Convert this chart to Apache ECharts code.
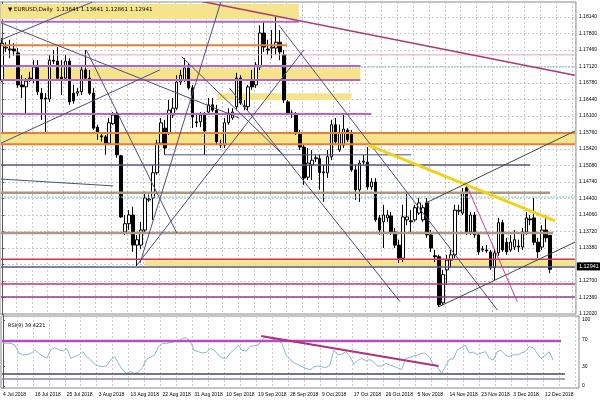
<!DOCTYPE html>
<html><head><meta charset="utf-8">
<script src="https://cdn.jsdelivr.net/npm/echarts/dist/echarts.min.js"></script>
<style>html,body{margin:0;padding:0;background:#fff}#c{width:600px;height:400px}</style>
</head><body><div id="c"></div>
<script>
// ---------------- DATA ----------------
const dateLabels = ['4 Jul 2018','16 Jul 2018','25 Jul 2018','3 Aug 2018','13 Aug 2018','22 Aug 2018','31 Aug 2018','10 Sep 2018','19 Sep 2018','28 Sep 2018','9 Oct 2018','17 Oct 2018','26 Oct 2018','5 Nov 2018','14 Nov 2018','23 Nov 2018','3 Dec 2018','12 Dec 2018'];
const priceTicks = { min: 1.12020, step: 0.0034, max: 1.18449 };

const opens = [1.1684,1.1750,1.1746,1.1748,1.1740,1.1674,1.1670,1.1686,1.1684,1.1711,1.1657,1.1647,1.1645,1.1725,1.1723,1.1690,1.1688,1.1723,1.1657,1.1657,
1.1660,1.1705,1.1688,1.1657,1.1587,1.1569,1.1567,1.1554,1.1594,1.1612,1.1528,1.1371,1.1388,1.1406,1.1344,1.1344,1.1375,1.1437,1.1441,1.1493,
1.1554,1.1585,1.1575,1.1612,1.1626,1.1680,1.1684,1.1709,1.1668,1.1598,1.1598,1.1612,1.1618,1.1633,1.1622,1.1550,1.1550,1.1596,1.1606,1.1629,
1.1688,1.1629,1.1629,1.1684,1.1674,1.1711,1.1781,1.1748,1.1750,1.1750,1.1762,1.1736,1.1639,1.1614,1.1612,1.1575,1.1546,1.1484,1.1509,1.1522,
1.1522,1.1493,1.1493,1.1526,1.1592,1.1540,1.1550,1.1581,1.1575,1.1499,1.1458,1.1515,1.1515,1.1464,1.1474,1.1400,1.1392,1.1400,1.1404,1.1371,
1.1344,1.1317,1.1396,1.1394,1.1396,1.1410,1.1396,1.1431,1.1365,1.1322,1.1320,1.1225,1.1293,1.1313,1.1324,1.1414,1.1410,1.1462,1.1371,1.1406,
1.1365,1.1334,1.1334,1.1330,1.1297,1.1328,1.1390,1.1350,1.1334,1.1340,1.1342,1.1340,1.1371,1.1398,1.1400,1.1350,1.1340,1.1375,1.13641];
const closes = [1.1760,1.1752,1.1748,1.1744,1.1674,1.1670,1.1682,1.1688,1.1711,1.1660,1.1645,1.1645,1.1725,1.1723,1.1688,1.1684,1.1723,1.1639,1.1641,1.1660,
1.1705,1.1688,1.1657,1.1585,1.1577,1.1567,1.1554,1.1596,1.1612,1.1530,1.1402,1.1388,1.1406,1.1344,1.1355,1.1375,1.1441,1.1439,1.1493,1.1554,
1.1596,1.1544,1.1622,1.1626,1.1680,1.1694,1.1709,1.1668,1.1608,1.1596,1.1612,1.1579,1.1633,1.1622,1.1557,1.1552,1.1596,1.1616,1.1618,1.1688,
1.1637,1.1631,1.1670,1.1670,1.1715,1.1781,1.1752,1.1746,1.1752,1.1762,1.1742,1.1643,1.1616,1.1616,1.1575,1.1546,1.1482,1.1513,1.1519,1.1524,
1.1493,1.1495,1.1526,1.1592,1.1557,1.1575,1.1583,1.1561,1.1499,1.1458,1.1513,1.1517,1.1464,1.1474,1.1396,1.1375,1.1406,1.1406,1.1371,1.1344,
1.1317,1.1402,1.1402,1.1392,1.1421,1.1431,1.1421,1.1365,1.1338,1.1320,1.1221,1.1283,1.1313,1.1324,1.1416,1.1416,1.1452,1.1369,1.1406,1.1365,
1.1330,1.1336,1.1332,1.1297,1.1328,1.1390,1.1334,1.1330,1.1350,1.1355,1.1340,1.1371,1.1400,1.1396,1.1350,1.1330,1.1375,1.1359,1.12941];
const lows = [1.1680,1.1742,1.1729,1.1734,1.1668,1.1647,1.1616,1.1680,1.1678,1.1653,1.1602,1.1575,1.1639,1.1717,1.1684,1.1653,1.1684,1.1633,1.1635,1.1651,
1.1653,1.1684,1.1653,1.1581,1.1561,1.1557,1.1530,1.1550,1.1592,1.1524,1.1400,1.1365,1.1375,1.1330,1.1301,1.1336,1.1371,1.1433,1.1396,1.1489,
1.1550,1.1530,1.1571,1.1606,1.1622,1.1674,1.1680,1.1664,1.1585,1.1587,1.1587,1.1530,1.1612,1.1618,1.1550,1.1544,1.1544,1.1592,1.1602,1.1622,
1.1633,1.1622,1.1622,1.1664,1.1668,1.1705,1.1742,1.1736,1.1729,1.1736,1.1725,1.1637,1.1612,1.1606,1.1571,1.1540,1.1468,1.1478,1.1478,1.1515,
1.1458,1.1433,1.1482,1.1519,1.1550,1.1536,1.1544,1.1557,1.1495,1.1437,1.1433,1.1509,1.1458,1.1458,1.1392,1.1365,1.1338,1.1392,1.1365,1.1338,
1.1307,1.1309,1.1385,1.1371,1.1392,1.1406,1.1392,1.1359,1.1330,1.1309,1.1217,1.1221,1.1262,1.1297,1.1317,1.1406,1.1406,1.1365,1.1365,1.1359,
1.1324,1.1330,1.1328,1.1293,1.1272,1.1322,1.1330,1.1324,1.1330,1.1334,1.1330,1.1334,1.1365,1.1385,1.1344,1.1317,1.1334,1.1350,1.12861];
const highs = [1.1771,1.1762,1.1767,1.1760,1.1750,1.1694,1.1688,1.1701,1.1725,1.1725,1.1668,1.1657,1.1736,1.1746,1.1752,1.1725,1.1736,1.1729,1.1674,1.1668,
1.1715,1.1746,1.1705,1.1668,1.1592,1.1577,1.1571,1.1606,1.1618,1.1618,1.1530,1.1406,1.1416,1.1423,1.1365,1.1392,1.1454,1.1448,1.1509,1.1561,
1.1606,1.1602,1.1643,1.1647,1.1694,1.1705,1.1729,1.1719,1.1674,1.1612,1.1618,1.1618,1.1647,1.1647,1.1633,1.1561,1.1606,1.1626,1.1626,1.1699,
1.1694,1.1643,1.1674,1.1705,1.1721,1.1797,1.1804,1.1767,1.1787,1.1814,1.1787,1.1746,1.1643,1.1622,1.1618,1.1581,1.1550,1.1544,1.1540,1.1530,
1.1530,1.1509,1.1540,1.1602,1.1606,1.1592,1.1612,1.1585,1.1581,1.1509,1.1519,1.1530,1.1546,1.1482,1.1482,1.1406,1.1427,1.1416,1.1412,1.1379,
1.1355,1.1427,1.1452,1.1416,1.1427,1.1441,1.1427,1.1441,1.1375,1.1334,1.1324,1.1293,1.1324,1.1334,1.1427,1.1427,1.1462,1.1468,1.1412,1.1412,
1.1371,1.1342,1.1344,1.1334,1.1334,1.1400,1.1396,1.1359,1.1365,1.1375,1.1355,1.1379,1.1412,1.1406,1.1441,1.1359,1.1385,1.1406,1.13641];

const rsi = [64.6,65,64.6,62,50,47,47.5,49.5,54.5,49.5,45,42,55,58,55,53,57,42,44.4,47,
52,44.4,39.4,33,30.3,29.3,30.5,40,44.4,34.3,24,19.5,21.7,19.2,21,28,40,44,47,59.6,
64.6,64.6,66,67.2,68,72.2,73.2,67,54,52,50,51,57,54.5,47,42.5,41.9,50,55,62,
54,53,60,61,62,69.7,74.7,72,70.5,69.7,64,47,40,35.5,32.5,29.3,26.8,24.5,29,30.3,
29,27.8,31.8,54.5,47,48,52,45,33,38.5,41.9,38,40,36,30.5,30,34.3,31.8,30,27.5,
25,42,43,45.5,47,49.5,49.5,43,32,29.3,19.2,29.3,40.5,41,55,58,62,50,51.5,47.5,
50,52,42,39.4,52,54,47,44.4,47.5,47,50,52,59.6,58,49.5,42,46,52,39.4221];

// horizontal levels: [fromBar, toBar, price, kind]
const levels = [
 [-0.25, 74.75, 1.1847, 'purple'], [-0.25, 74.75, 1.1804, 'purple'],
 [-0.25, 71.75, 1.1756, 'orange'], [-0.25, 144.25, 1.1736, 'pinkThin'],
 [-0.25, 144.25, 1.1711, 'teal'], [-0.25, 90.25, 1.1713, 'purple'],
 [-0.25, 90.25, 1.1684, 'purple'], [-0.25, 93, 1.1614, 'purple'],
 [-0.25, 144.25, 1.1575, 'orange'], [-0.25, 144.25, 1.1552, 'orange'],
 [41, 103, 1.1530, 'navy'], [-0.25, 133, 1.1509, 'navy2'],
 [-0.25, 138, 1.1452, 'tan'], [-0.25, 144.25, 1.1443, 'teal'],
 [-0.25, 138.75, 1.1369, 'tan'], [-0.25, 144.25, 1.1315, 'red'],
 [-0.25, 144.25, 1.1299, 'navy2'], [-0.25, 144.25, 1.1264, 'magenta'],
 [-0.25, 144.25, 1.1237, 'plum']
];
// zones: [fromBar, toBar, lowPrice, highPrice]
const zones = [
 [-0.25, 74.75, 1.1810, 1.1841], [-0.25, 90.25, 1.1686, 1.1709],
 [54.25, 88, 1.1643, 1.1657], [-0.25, 144.25, 1.1552, 1.1575],
 [36, 144.25, 1.1301, 1.1313]
];
// trend lines: [bar1, price1, bar2, price2, kind]
const trends = [
 [-0.25, 1.1802, 59.75, 1.1606, 'navy'], [-0.25, 1.1554, 39.75, 1.1705, 'navy'],
 [-0.25, 1.1767, 24, 1.1849, 'navy'], [21.25, 1.1746, 44, 1.1369, 'navy'],
 [34.75, 1.1307, 55.25, 1.1849, 'navy'], [34, 1.1303, 76, 1.1746, 'navy'],
 [45.25, 1.1732, 71, 1.1528, 'navy'], [69.75, 1.1797, 124.75, 1.1210, 'navy'],
 [57.25, 1.1668, 100.25, 1.1227, 'navy'], [-0.25, 1.1480, 28, 1.1466, 'navy'],
 [48.5, 1.1849, 144.25, 1.1694, 'maroon'], [92.25, 1.1550, 139.25, 1.1394, 'yellow'],
 [106.75, 1.1431, 144.25, 1.1579, 'dark'], [110, 1.1217, 144.25, 1.1350, 'dark'],
 [117.25, 1.1462, 129.75, 1.1227, 'pink']
];
const rsiLevels = [[-0.25, 140, 68.2, 'rsiMag'], [-0.25, 141, 18.2, 'rsiDark'], [-0.25, 141, 10.6, 'rsiGrey']];
const rsiTrends = [[64.75, 75.8, 109.25, 30.3, 'rsiTrend']];
const notes = [
 [110, 1.1828, 'G', 'g'], [140.25, 1.1715, 'R', 'r'], [71.75, 1.1729, 'R', 'rs'],
 [100, 1.1274, 'R', 'ro'], [120.5, 1.1264, 'R', 'ro'], [124, 1.1264, '?', 'ro'],
 [142.75, 1.1742, '38.2', 'fp'], [142.75, 1.1716, '38.2', 'ft'], [142.75, 1.1449, '50.0', 'ft'],
 [143.5, 1.1240, '0', 'fp'], [142.5, 1.1208, '23.6', 'fp']
];
const lastClose = 1.12941;
const titleText = '\u25BC EURUSD,Daily  1.13641 1.13641 1.12861 1.12941';
const rsiTitle = 'RSI(9) 39.4221';

// ---------------- STYLES ----------------
const FONT = 'Liberation Sans, Arial, sans-serif';
const lineKinds = {
  purple: {stroke:'#b866c6', lineWidth:2},
  orange: {stroke:'#e2803a', lineWidth:2},
  pinkThin: {stroke:'#e6a6c6', lineWidth:1},
  teal: {stroke:'#86c4c4', lineWidth:1, lineDash:[2,1]},
  navy: {stroke:'#4e4e7c', lineWidth:1},
  navy2: {stroke:'#58587e', lineWidth:1.5},
  tan: {stroke:'#ad9782', lineWidth:2.5},
  red: {stroke:'#d2344e', lineWidth:1.5},
  magenta: {stroke:'#c0357a', lineWidth:1.5},
  plum: {stroke:'#8c3c8c', lineWidth:1.5},
  maroon: {stroke:'#a83a74', lineWidth:1.5},
  yellow: {stroke:'#f0d218', lineWidth:3},
  dark: {stroke:'#3c4a40', lineWidth:1},
  pink: {stroke:'#cc3c98', lineWidth:1},
  rsiMag: {stroke:'#b84cbe', lineWidth:2.5},
  rsiDark: {stroke:'#46466a', lineWidth:1.5},
  rsiGrey: {stroke:'#8a8aa0', lineWidth:1.5},
  rsiTrend: {stroke:'#b0307e', lineWidth:2}
};
const noteKinds = {
  g: {color:'#b070c8', fontSize:9},
  r: {color:'#b070c8', fontSize:8},
  rs: {color:'#c070c0', fontSize:6},
  ro: {color:'#c8641e', fontSize:10, fontWeight:'bold'},
  fp: {color:'#d07090', fontSize:5},
  ft: {color:'#5aa8a8', fontSize:5}
};

// ---------------- BUILD ----------------
const NB = 145;
const cats = Array.from({length: NB}, (_, i) => String(i));
const candles = opens.map((o, i) => [o, closes[i], lows[i], highs[i]]);
const segs = levels.map(l => [l[0], l[2], l[1], l[2], l[3]]).concat(trends);
const rsiSegs = rsiLevels.map(l => [l[0], l[2], l[1], l[2], l[3]]).concat(rsiTrends);

function segSeries(src, xi, yi, z) {
  return {
    type: 'custom', xAxisIndex: xi, yAxisIndex: yi, z: z, silent: true, clip: true,
    data: src.map(s => [s[0], s[1], s[2], s[3]]),
    encode: {x: [0, 2], y: [1, 3]},
    renderItem: (params, api) => {
      const a = api.coord([api.value(0), api.value(1)]);
      const b = api.coord([api.value(2), api.value(3)]);
      const st = lineKinds[src[params.dataIndex][4]];
      return {type: 'line', shape: {x1: a[0], y1: a[1], x2: b[0], y2: b[1]},
        style: Object.assign({fill: null}, st)};
    }
  };
}

const gridLine = {show: true, lineStyle: {color: '#c9c9c9', type: [2, 2], width: 1}};
const chart = echarts.init(document.getElementById('c'), null, {renderer: 'canvas'});
chart.setOption({
  animation: false,
  backgroundColor: '#fff',
  textStyle: {fontFamily: FONT},
  title: [
    {text: titleText, left: 3, top: 2, textStyle: {fontSize: 5.5, fontWeight: 'normal', color: '#000', fontFamily: 'DejaVu Sans, sans-serif'}},
    {text: rsiTitle, left: 3, top: 318, textStyle: {fontSize: 5, fontWeight: 'normal', color: '#000', fontFamily: 'DejaVu Sans, sans-serif'}}
  ],
  grid: [
    {left: -1, right: 21, top: 2, height: 312, show: true, borderColor: '#888', borderWidth: 1},
    {left: -1, right: 21, top: 316, height: 72, show: true, borderColor: '#888', borderWidth: 1}
  ],
  xAxis: [
    {type: 'category', gridIndex: 0, data: cats, boundaryGap: true, axisLabel: {show: false}, axisTick: {show: false}, axisLine: {show: false}, splitLine: {show: false}},
    {type: 'value', gridIndex: 0, min: -0.5, max: NB - 0.5, interval: 4, axisLabel: {show: false}, axisTick: {show: false}, axisLine: {show: false}, splitLine: gridLine},
    {type: 'category', gridIndex: 1, data: cats, boundaryGap: true, axisLine: {show: false}, axisTick: {show: false},
      axisLabel: {interval: 7, align: 'left', margin: 4, fontSize: 5, color: '#000', fontFamily: FONT,
        formatter: (v) => dateLabels[Number(v) / 8] || ''}},
    {type: 'value', gridIndex: 1, min: -0.5, max: NB - 0.5, interval: 4, axisLabel: {show: false}, axisTick: {show: false}, axisLine: {show: false}, splitLine: gridLine}
  ],
  yAxis: [
    {type: 'value', gridIndex: 0, position: 'right', min: priceTicks.min, max: priceTicks.max, interval: priceTicks.step, scale: true,
      axisLine: {show: true, lineStyle: {color: '#555'}}, axisTick: {show: true, length: 2, lineStyle: {color: '#555'}},
      axisLabel: {fontSize: 5, color: '#000', margin: 3, showMaxLabel: false, fontFamily: FONT, formatter: v => v.toFixed(5)},
      splitLine: gridLine},
    {type: 'value', gridIndex: 1, position: 'right', min: -3.03, max: 106.1,
      axisLine: {show: true, lineStyle: {color: '#555'}},
      axisTick: {show: true, length: 2, customValues: [0, 30, 70, 100]},
      axisLabel: {fontSize: 5, color: '#000', margin: 3, fontFamily: FONT, customValues: [0, 30, 70, 100]},
      splitLine: {show: false}}
  ],
  series: [
    {type: 'custom', xAxisIndex: 1, yAxisIndex: 0, z: 1, silent: true, clip: true,
      data: zones, encode: {x: [0, 1], y: [2, 3]},
      renderItem: (params, api) => {
        const a = api.coord([api.value(0), api.value(3)]);
        const b = api.coord([api.value(1), api.value(2)]);
        return {type: 'rect', shape: {x: a[0], y: a[1], width: b[0] - a[0], height: b[1] - a[1]}, style: {fill: '#f5e48c'}};
      }},
    {type: 'candlestick', xAxisIndex: 0, yAxisIndex: 0, z: 3, barWidth: 3, data: candles,
      itemStyle: {color: '#fff', color0: '#000', borderColor: '#000', borderColor0: '#000', borderWidth: 1},
      markLine: {silent: true, symbol: 'none', animation: false,
        lineStyle: {color: 'rgba(0,0,0,0)', width: 1},
        label: {position: 'end', distance: 1, formatter: lastClose.toFixed(5), backgroundColor: '#000', color: '#fff', fontSize: 5.5, padding: [1, 2, 1, 2], fontFamily: FONT},
        data: [{yAxis: lastClose}]}},
    segSeries(segs, 1, 0, 4),
    {type: 'scatter', xAxisIndex: 1, yAxisIndex: 0, z: 5, silent: true, symbolSize: 1, itemStyle: {opacity: 0},
      data: notes.map(n => ({value: [n[0], n[1]], name: n[2],
        label: Object.assign({show: true, position: 'inside', formatter: n[2], fontFamily: FONT}, noteKinds[n[3]])}))},
    {type: 'line', xAxisIndex: 2, yAxisIndex: 1, z: 3, data: rsi, showSymbol: false, symbol: 'none',
      lineStyle: {color: '#8ab8cc', width: 1}},
    segSeries(rsiSegs, 3, 1, 4)
  ]
});
</script></body></html>
